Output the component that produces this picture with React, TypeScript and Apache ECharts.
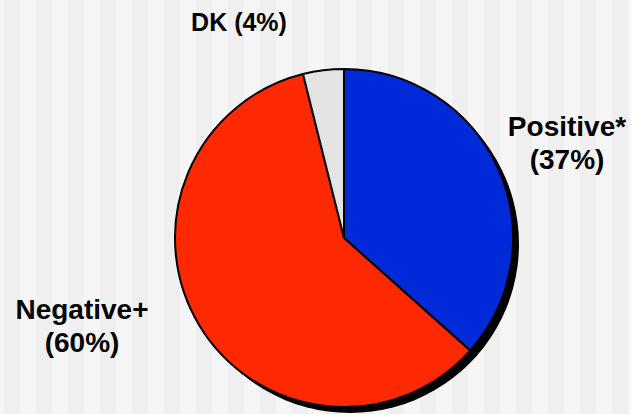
import React, { useEffect, useRef } from "react";
import * as echarts from "echarts";

const categories = ["Positive*", "Negative+", "DK"];
const values = [36.6, 59.5, 3.9];
const percentLabels = ["37%", "60%", "4%"];
const colors = ["#0029d8", "#ff2900", "#e3e3e3"];

export default function App() {
  const ref = useRef<HTMLDivElement>(null);
  useEffect(() => {
    document.body.style.margin = "0";
    const chart = echarts.init(ref.current!, null, { renderer: "svg" });
    const labelPos = [
      { x: 567, y: 143 },
      { x: 82, y: 326 },
      { x: 239, y: 22 },
    ];
    chart.setOption({
      animation: false,
      backgroundColor: "transparent",
      series: [
        {
          type: "pie",
          center: [350, 244],
          radius: 169,
          silent: true,
          z: 1,
          label: { show: false },
          labelLine: { show: false },
          itemStyle: { color: "#000", borderWidth: 0 },
          data: [{ value: 1, name: "shadow" }],
        },
        {
          type: "pie",
          center: [344, 238],
          radius: 169,
          startAngle: 90,
          clockwise: true,
          z: 2,
          itemStyle: { borderColor: "#000", borderWidth: 2 },
          labelLine: { show: false },
          label: {
            show: true,
            color: "#000",
            fontFamily: "Liberation Sans, Arial, sans-serif",
            fontWeight: "bold",
            fontSize: 28,
            lineHeight: 33,
            align: "center",
            overflow: "none",
            width: 300,
          },
          labelLayout: (p: any) => {
            const l = labelPos[p.dataIndex];
            return { x: l.x, y: l.y, align: "center", verticalAlign: "middle" };
          },
          data: categories.map((c, i) => ({
            name: c,
            value: values[i],
            itemStyle: { color: colors[i] },
            label: {
              fontSize: i === 2 ? 25 : 28,
              formatter:
                i === 2
                  ? `${c} (${percentLabels[i]})`
                  : `${c}\n(${percentLabels[i]})`,
            },
          })),
        },
      ],
    });
    return () => chart.dispose();
  }, []);
  return (
    <div
      ref={ref}
      style={{
        position: "absolute",
        left: 0,
        top: 0,
        width: 631,
        height: 414,
        backgroundImage:
          "repeating-linear-gradient(90deg, #efefef 0px, #efefef 16px, #f6f6f6 16px, #f6f6f6 32px)",
        backgroundPosition: "4px 0",
      }}
    />
  );
}
